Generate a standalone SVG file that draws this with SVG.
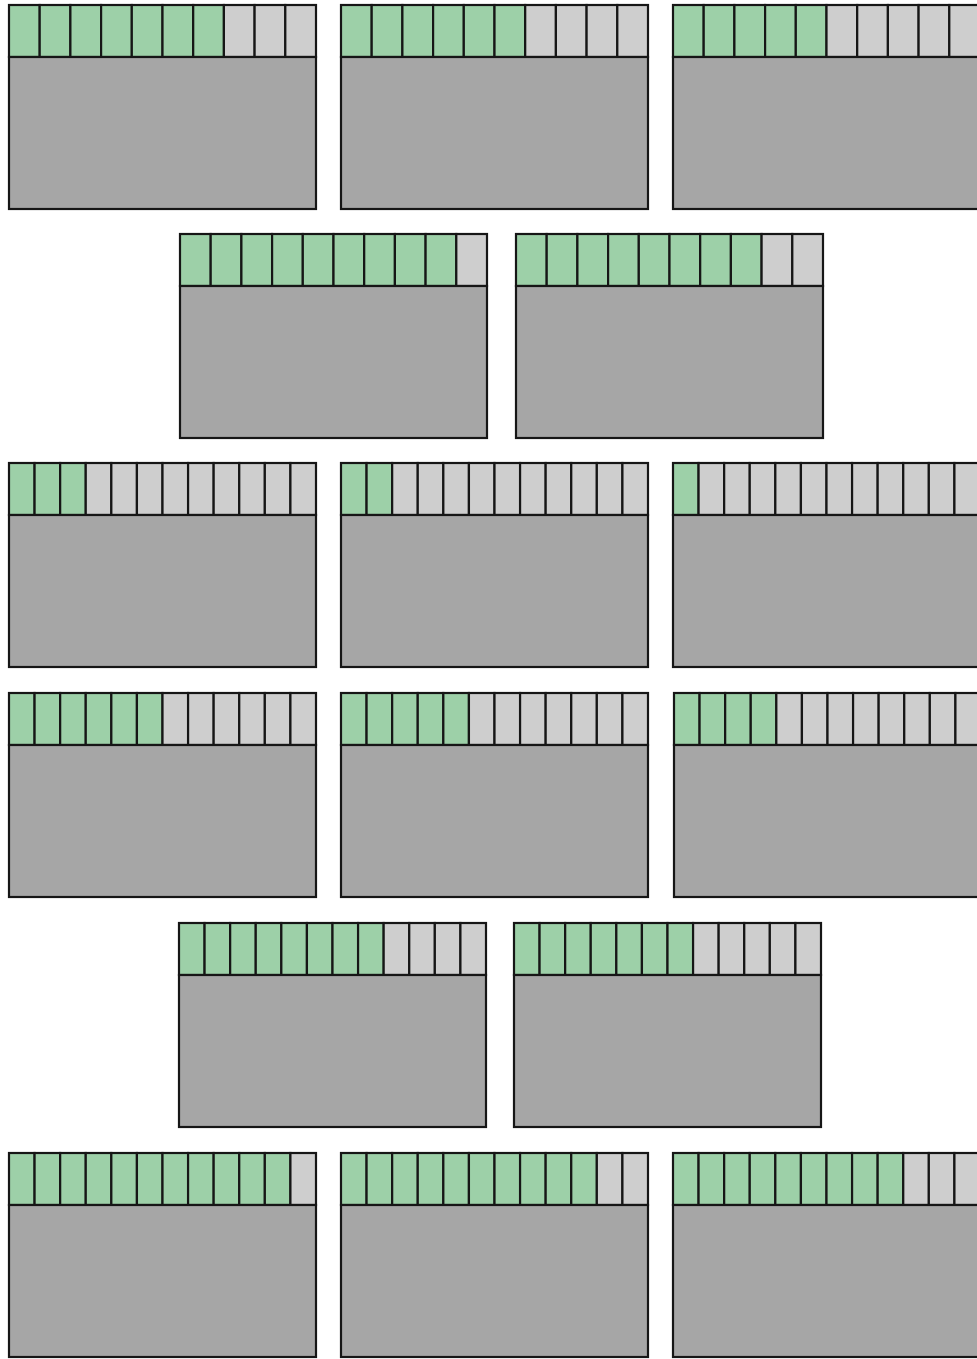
<svg xmlns="http://www.w3.org/2000/svg" width="977" height="1359" viewBox="0 0 977 1359">
<style>
.g,.e,.b{stroke:#161616;stroke-width:2.2}
.g{fill:#9dd0a8}
.e{fill:#cecece}
.b{fill:#a6a6a6}
</style>
<rect x="0" y="0" width="977" height="1359" fill="#ffffff"/>
<g id="connectors"/>
<!-- Row 1: 10 cells -->
<g id="node1" transform="translate(9,5)">
<rect class="g" x="0" width="30.7" height="52"/><rect class="g" x="30.7" width="30.7" height="52"/><rect class="g" x="61.4" width="30.7" height="52"/><rect class="g" x="92.1" width="30.7" height="52"/><rect class="g" x="122.8" width="30.7" height="52"/><rect class="g" x="153.5" width="30.7" height="52"/><rect class="g" x="184.2" width="30.7" height="52"/><rect class="e" x="214.9" width="30.7" height="52"/><rect class="e" x="245.6" width="30.7" height="52"/><rect class="e" x="276.3" width="30.7" height="52"/>
<rect class="b" x="0" y="52" width="307" height="152"/>
</g>
<g id="node2" transform="translate(341,5)">
<rect class="g" x="0" width="30.7" height="52"/><rect class="g" x="30.7" width="30.7" height="52"/><rect class="g" x="61.4" width="30.7" height="52"/><rect class="g" x="92.1" width="30.7" height="52"/><rect class="g" x="122.8" width="30.7" height="52"/><rect class="g" x="153.5" width="30.7" height="52"/><rect class="e" x="184.2" width="30.7" height="52"/><rect class="e" x="214.9" width="30.7" height="52"/><rect class="e" x="245.6" width="30.7" height="52"/><rect class="e" x="276.3" width="30.7" height="52"/>
<rect class="b" x="0" y="52" width="307" height="152"/>
</g>
<g id="node3" transform="translate(673,5)">
<rect class="g" x="0" width="30.7" height="52"/><rect class="g" x="30.7" width="30.7" height="52"/><rect class="g" x="61.4" width="30.7" height="52"/><rect class="g" x="92.1" width="30.7" height="52"/><rect class="g" x="122.8" width="30.7" height="52"/><rect class="e" x="153.5" width="30.7" height="52"/><rect class="e" x="184.2" width="30.7" height="52"/><rect class="e" x="214.9" width="30.7" height="52"/><rect class="e" x="245.6" width="30.7" height="52"/><rect class="e" x="276.3" width="30.7" height="52"/>
<rect class="b" x="0" y="52" width="307" height="152"/>
</g>
<!-- Row 2: 10 cells -->
<g id="node4" transform="translate(180,234)">
<rect class="g" x="0" width="30.7" height="52"/><rect class="g" x="30.7" width="30.7" height="52"/><rect class="g" x="61.4" width="30.7" height="52"/><rect class="g" x="92.1" width="30.7" height="52"/><rect class="g" x="122.8" width="30.7" height="52"/><rect class="g" x="153.5" width="30.7" height="52"/><rect class="g" x="184.2" width="30.7" height="52"/><rect class="g" x="214.9" width="30.7" height="52"/><rect class="g" x="245.6" width="30.7" height="52"/><rect class="e" x="276.3" width="30.7" height="52"/>
<rect class="b" x="0" y="52" width="307" height="152"/>
</g>
<g id="node5" transform="translate(516,234)">
<rect class="g" x="0" width="30.7" height="52"/><rect class="g" x="30.7" width="30.7" height="52"/><rect class="g" x="61.4" width="30.7" height="52"/><rect class="g" x="92.1" width="30.7" height="52"/><rect class="g" x="122.8" width="30.7" height="52"/><rect class="g" x="153.5" width="30.7" height="52"/><rect class="g" x="184.2" width="30.7" height="52"/><rect class="g" x="214.9" width="30.7" height="52"/><rect class="e" x="245.6" width="30.7" height="52"/><rect class="e" x="276.3" width="30.7" height="52"/>
<rect class="b" x="0" y="52" width="307" height="152"/>
</g>
<!-- Row 3: 12 cells -->
<g id="node6" transform="translate(9,463)">
<rect class="g" x="0" width="25.58" height="52"/><rect class="g" x="25.58" width="25.58" height="52"/><rect class="g" x="51.17" width="25.58" height="52"/><rect class="e" x="76.75" width="25.58" height="52"/><rect class="e" x="102.33" width="25.58" height="52"/><rect class="e" x="127.92" width="25.58" height="52"/><rect class="e" x="153.5" width="25.58" height="52"/><rect class="e" x="179.08" width="25.58" height="52"/><rect class="e" x="204.67" width="25.58" height="52"/><rect class="e" x="230.25" width="25.58" height="52"/><rect class="e" x="255.83" width="25.58" height="52"/><rect class="e" x="281.42" width="25.58" height="52"/>
<rect class="b" x="0" y="52" width="307" height="152"/>
</g>
<g id="node7" transform="translate(341,463)">
<rect class="g" x="0" width="25.58" height="52"/><rect class="g" x="25.58" width="25.58" height="52"/><rect class="e" x="51.17" width="25.58" height="52"/><rect class="e" x="76.75" width="25.58" height="52"/><rect class="e" x="102.33" width="25.58" height="52"/><rect class="e" x="127.92" width="25.58" height="52"/><rect class="e" x="153.5" width="25.58" height="52"/><rect class="e" x="179.08" width="25.58" height="52"/><rect class="e" x="204.67" width="25.58" height="52"/><rect class="e" x="230.25" width="25.58" height="52"/><rect class="e" x="255.83" width="25.58" height="52"/><rect class="e" x="281.42" width="25.58" height="52"/>
<rect class="b" x="0" y="52" width="307" height="152"/>
</g>
<g id="node8" transform="translate(673,463)">
<rect class="g" x="0" width="25.58" height="52"/><rect class="e" x="25.58" width="25.58" height="52"/><rect class="e" x="51.17" width="25.58" height="52"/><rect class="e" x="76.75" width="25.58" height="52"/><rect class="e" x="102.33" width="25.58" height="52"/><rect class="e" x="127.92" width="25.58" height="52"/><rect class="e" x="153.5" width="25.58" height="52"/><rect class="e" x="179.08" width="25.58" height="52"/><rect class="e" x="204.67" width="25.58" height="52"/><rect class="e" x="230.25" width="25.58" height="52"/><rect class="e" x="255.83" width="25.58" height="52"/><rect class="e" x="281.42" width="25.58" height="52"/>
<rect class="b" x="0" y="52" width="307" height="152"/>
</g>
<!-- Row 4: 12 cells -->
<g id="node9" transform="translate(9,693)">
<rect class="g" x="0" width="25.58" height="52"/><rect class="g" x="25.58" width="25.58" height="52"/><rect class="g" x="51.17" width="25.58" height="52"/><rect class="g" x="76.75" width="25.58" height="52"/><rect class="g" x="102.33" width="25.58" height="52"/><rect class="g" x="127.92" width="25.58" height="52"/><rect class="e" x="153.5" width="25.58" height="52"/><rect class="e" x="179.08" width="25.58" height="52"/><rect class="e" x="204.67" width="25.58" height="52"/><rect class="e" x="230.25" width="25.58" height="52"/><rect class="e" x="255.83" width="25.58" height="52"/><rect class="e" x="281.42" width="25.58" height="52"/>
<rect class="b" x="0" y="52" width="307" height="152"/>
</g>
<g id="node10" transform="translate(341,693)">
<rect class="g" x="0" width="25.58" height="52"/><rect class="g" x="25.58" width="25.58" height="52"/><rect class="g" x="51.17" width="25.58" height="52"/><rect class="g" x="76.75" width="25.58" height="52"/><rect class="g" x="102.33" width="25.58" height="52"/><rect class="e" x="127.92" width="25.58" height="52"/><rect class="e" x="153.5" width="25.58" height="52"/><rect class="e" x="179.08" width="25.58" height="52"/><rect class="e" x="204.67" width="25.58" height="52"/><rect class="e" x="230.25" width="25.58" height="52"/><rect class="e" x="255.83" width="25.58" height="52"/><rect class="e" x="281.42" width="25.58" height="52"/>
<rect class="b" x="0" y="52" width="307" height="152"/>
</g>
<g id="node11" transform="translate(674,693)">
<rect class="g" x="0" width="25.58" height="52"/><rect class="g" x="25.58" width="25.58" height="52"/><rect class="g" x="51.17" width="25.58" height="52"/><rect class="g" x="76.75" width="25.58" height="52"/><rect class="e" x="102.33" width="25.58" height="52"/><rect class="e" x="127.92" width="25.58" height="52"/><rect class="e" x="153.5" width="25.58" height="52"/><rect class="e" x="179.08" width="25.58" height="52"/><rect class="e" x="204.67" width="25.58" height="52"/><rect class="e" x="230.25" width="25.58" height="52"/><rect class="e" x="255.83" width="25.58" height="52"/><rect class="e" x="281.42" width="25.58" height="52"/>
<rect class="b" x="0" y="52" width="307" height="152"/>
</g>
<!-- Row 5: 12 cells -->
<g id="node12" transform="translate(179,923)">
<rect class="g" x="0" width="25.58" height="52"/><rect class="g" x="25.58" width="25.58" height="52"/><rect class="g" x="51.17" width="25.58" height="52"/><rect class="g" x="76.75" width="25.58" height="52"/><rect class="g" x="102.33" width="25.58" height="52"/><rect class="g" x="127.92" width="25.58" height="52"/><rect class="g" x="153.5" width="25.58" height="52"/><rect class="g" x="179.08" width="25.58" height="52"/><rect class="e" x="204.67" width="25.58" height="52"/><rect class="e" x="230.25" width="25.58" height="52"/><rect class="e" x="255.83" width="25.58" height="52"/><rect class="e" x="281.42" width="25.58" height="52"/>
<rect class="b" x="0" y="52" width="307" height="152"/>
</g>
<g id="node13" transform="translate(514,923)">
<rect class="g" x="0" width="25.58" height="52"/><rect class="g" x="25.58" width="25.58" height="52"/><rect class="g" x="51.17" width="25.58" height="52"/><rect class="g" x="76.75" width="25.58" height="52"/><rect class="g" x="102.33" width="25.58" height="52"/><rect class="g" x="127.92" width="25.58" height="52"/><rect class="g" x="153.5" width="25.58" height="52"/><rect class="e" x="179.08" width="25.58" height="52"/><rect class="e" x="204.67" width="25.58" height="52"/><rect class="e" x="230.25" width="25.58" height="52"/><rect class="e" x="255.83" width="25.58" height="52"/><rect class="e" x="281.42" width="25.58" height="52"/>
<rect class="b" x="0" y="52" width="307" height="152"/>
</g>
<!-- Row 6: 12 cells -->
<g id="node14" transform="translate(9,1153)">
<rect class="g" x="0" width="25.58" height="52"/><rect class="g" x="25.58" width="25.58" height="52"/><rect class="g" x="51.17" width="25.58" height="52"/><rect class="g" x="76.75" width="25.58" height="52"/><rect class="g" x="102.33" width="25.58" height="52"/><rect class="g" x="127.92" width="25.58" height="52"/><rect class="g" x="153.5" width="25.58" height="52"/><rect class="g" x="179.08" width="25.58" height="52"/><rect class="g" x="204.67" width="25.58" height="52"/><rect class="g" x="230.25" width="25.58" height="52"/><rect class="g" x="255.83" width="25.58" height="52"/><rect class="e" x="281.42" width="25.58" height="52"/>
<rect class="b" x="0" y="52" width="307" height="152"/>
</g>
<g id="node15" transform="translate(341,1153)">
<rect class="g" x="0" width="25.58" height="52"/><rect class="g" x="25.58" width="25.58" height="52"/><rect class="g" x="51.17" width="25.58" height="52"/><rect class="g" x="76.75" width="25.58" height="52"/><rect class="g" x="102.33" width="25.58" height="52"/><rect class="g" x="127.92" width="25.58" height="52"/><rect class="g" x="153.5" width="25.58" height="52"/><rect class="g" x="179.08" width="25.58" height="52"/><rect class="g" x="204.67" width="25.58" height="52"/><rect class="g" x="230.25" width="25.58" height="52"/><rect class="e" x="255.83" width="25.58" height="52"/><rect class="e" x="281.42" width="25.58" height="52"/>
<rect class="b" x="0" y="52" width="307" height="152"/>
</g>
<g id="node16" transform="translate(673,1153)">
<rect class="g" x="0" width="25.58" height="52"/><rect class="g" x="25.58" width="25.58" height="52"/><rect class="g" x="51.17" width="25.58" height="52"/><rect class="g" x="76.75" width="25.58" height="52"/><rect class="g" x="102.33" width="25.58" height="52"/><rect class="g" x="127.92" width="25.58" height="52"/><rect class="g" x="153.5" width="25.58" height="52"/><rect class="g" x="179.08" width="25.58" height="52"/><rect class="g" x="204.67" width="25.58" height="52"/><rect class="e" x="230.25" width="25.58" height="52"/><rect class="e" x="255.83" width="25.58" height="52"/><rect class="e" x="281.42" width="25.58" height="52"/>
<rect class="b" x="0" y="52" width="307" height="152"/>
</g>
</svg>
